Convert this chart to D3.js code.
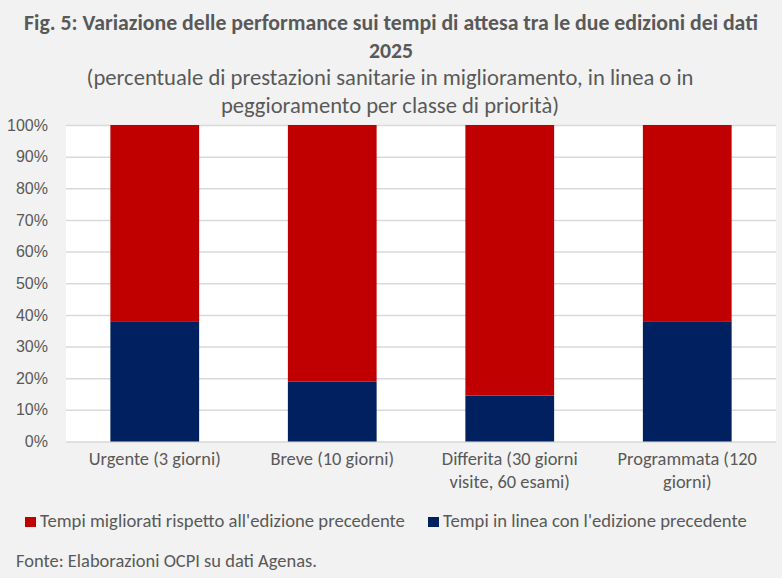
<!DOCTYPE html>
<html>
<head>
<meta charset="utf-8">
<script src="https://cdn.jsdelivr.net/npm/d3@7"></script>
<style>
  html, body { margin: 0; padding: 0; background: #f2f2f2; }
  svg { display: block; font-family: Carlito, Calibri, "Open Sans", sans-serif; }
</style>
</head>
<body>
<svg id="chart" width="782" height="578"></svg>
<script>
// categorie e serie (percentuali)
const categories = [
  ["Urgente (3 giorni)"],
  ["Breve (10 giorni)"],
  ["Differita (30 giorni", "visite, 60 esami)"],
  ["Programmata (120", "giorni)"]
];
const inLinea = [38, 19, 14.5, 38];
const migliorati = [62, 81, 85.5, 62];
const yTicks = [0, 10, 20, 30, 40, 50, 60, 70, 80, 90, 100];

const seriesNames = [
  "Tempi migliorati rispetto all'edizione precedente",
  "Tempi in linea con l'edizione precedente"
];
const seriesColors = ["#c00000", "#002060"];

const svg = d3.select('#chart');
const plot = { left: 66, right: 776, top: 125, bottom: 441.5 };

// porta la larghezza di un testo a quella del riferimento (Calibri non c'è)
function fit(textSel, measureNode, target) {
  const fs = parseFloat(textSel.style('font-size'));
  const w = measureNode.getComputedTextLength();
  textSel.style('font-size', (fs * target / w).toFixed(2) + 'px');
}

const keys = categories.map(c => c.join(' '));
const rows = keys.map((k, i) => ({ cat: k, inLinea: inLinea[i], migliorati: migliorati[i] }));

const x = d3.scaleBand().domain(keys).range([plot.left, plot.right])
  .paddingInner(0.5).paddingOuter(0.25);
const y = d3.scaleLinear().domain([0, 100]).range([plot.bottom, plot.top]);

// titolo
const title = svg.append('text').attr('text-anchor', 'middle')
  .attr('fill', '#595959').style('font-size', '18px').style('font-weight', 600);
const t1 = title.append('tspan').attr('x', 391).attr('y', 30)
  .text('Fig. 5: Variazione delle performance sui tempi di attesa tra le due edizioni dei dati');
title.append('tspan').attr('x', 391).attr('y', 57.5).text('2025');
fit(title, t1.node(), 734);

const sub = svg.append('text').attr('text-anchor', 'middle')
  .attr('fill', '#595959').style('font-size', '18px');
const s1 = sub.append('tspan').attr('x', 390).attr('y', 84.5)
  .text('(percentuale di prestazioni sanitarie in miglioramento, in linea o in');
sub.append('tspan').attr('x', 390).attr('y', 112.5)
  .text('peggioramento per classe di priorità)');
fit(sub, s1.node(), 607);

// area del grafico
svg.append('rect')
  .attr('x', plot.left).attr('y', plot.top)
  .attr('width', plot.right - plot.left).attr('height', plot.bottom - plot.top)
  .attr('fill', '#fff');

// griglia + etichette asse y
const yAxis = svg.append('g').attr('transform', `translate(${plot.left},0)`)
  .call(d3.axisLeft(y).tickValues(yTicks).tickSize(-(plot.right - plot.left))
    .tickPadding(18).tickFormat(d => d + '%'));
yAxis.select('.domain').remove();
yAxis.selectAll('line').attr('stroke', '#d9d9d9').attr('stroke-width', 1.5);
const yTxt = yAxis.selectAll('text').attr('fill', '#595959')
  .style('font-family', null).style('font-size', '15px');
fit(yTxt, yTxt.filter(d => d === 100).node(), 41);

// barre impilate
const stack = d3.stack().keys(['inLinea', 'migliorati'])(rows);
const colorOf = { inLinea: seriesColors[1], migliorati: seriesColors[0] };

svg.append('g').selectAll('g').data(stack).join('g')
  .attr('fill', d => colorOf[d.key])
  .selectAll('rect').data(d => d).join('rect')
  .attr('x', d => x(d.data.cat))
  .attr('width', x.bandwidth())
  .attr('y', d => y(d[1]))
  .attr('height', d => y(d[0]) - y(d[1]));

// etichette asse x
const xl = svg.append('g').selectAll('text').data(categories).join('text')
  .attr('text-anchor', 'middle').attr('fill', '#595959').style('font-size', '15px');
xl.each(function(lines, i) {
  const cx = x(keys[i]) + x.bandwidth() / 2;
  d3.select(this).selectAll('tspan').data(lines).join('tspan')
    .attr('x', cx).attr('y', (d, j) => 465 + j * 23).text(d => d);
});
fit(xl, xl.node(), 132);

// legenda
const legX = [25, 428];
const leg = svg.append('g').selectAll('g').data(seriesNames).join('g')
  .attr('transform', (d, i) => `translate(${legX[i]},517)`);
leg.append('rect').attr('width', 11).attr('height', 10)
  .attr('fill', (d, i) => seriesColors[i]);
const legTxt = leg.append('text').attr('x', 15).attr('y', 10)
  .attr('fill', '#595959').style('font-size', '15px').text(d => d);
fit(legTxt, legTxt.node(), 365);

// fonte
const src = svg.append('text').attr('x', 16).attr('y', 567)
  .attr('fill', '#595959').style('font-size', '15px')
  .text('Fonte: Elaborazioni OCPI su dati Agenas.');
fit(src, src.node(), 301);
</script>
</body>
</html>
